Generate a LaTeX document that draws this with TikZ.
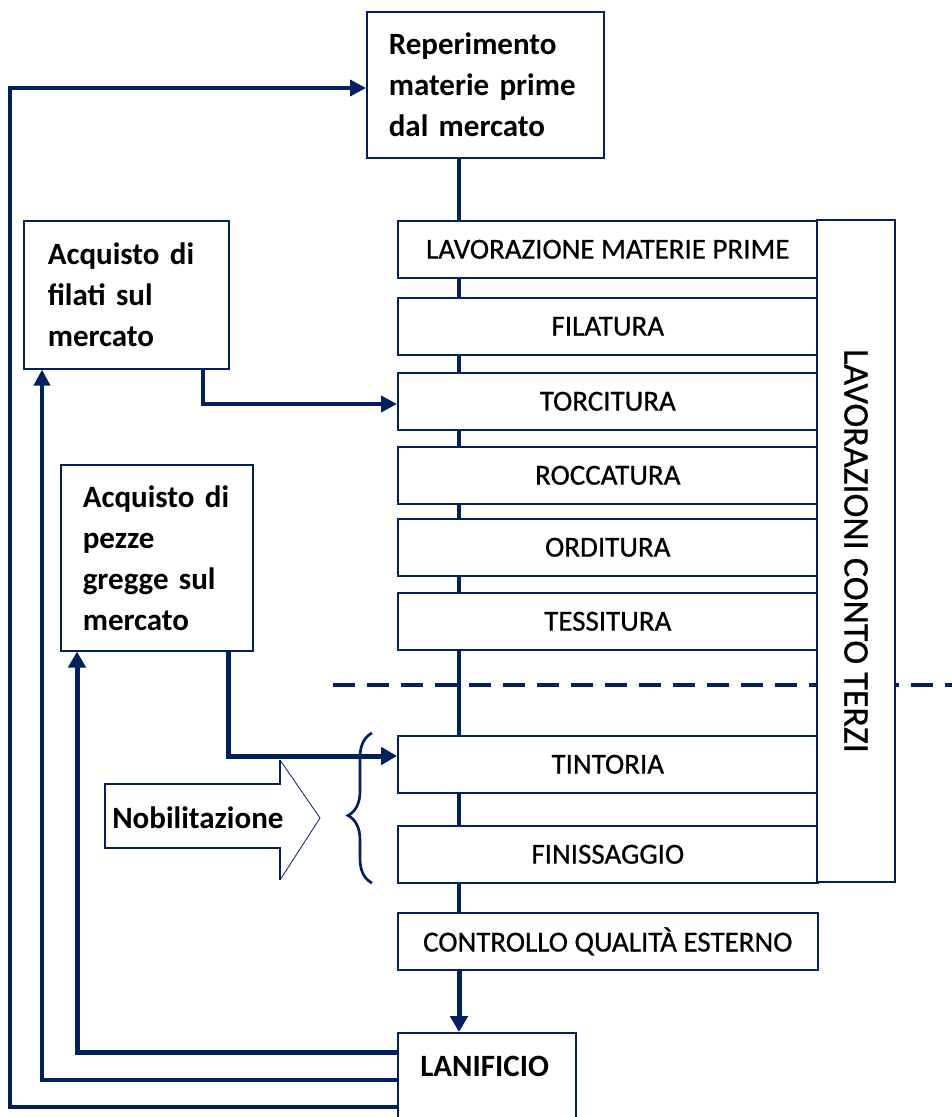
\documentclass[tikz,border=0pt]{standalone}
\usepackage{fontspec}
\setmainfont{Carlito}[WordSpace=0.6]
\newfontfamily\procfont{Carlito}[FakeBold=0.7]
\usetikzlibrary{arrows.meta,decorations.pathreplacing,backgrounds}
\definecolor{navy}{RGB}{0,32,96}
\begin{document}
\begin{tikzpicture}[x=0.75pt,y=-0.75pt,
  box/.style={draw=navy, line width=1.2pt, fill=white, inner sep=0pt},
  proc/.style={box, anchor=north west, minimum width=315pt, minimum height=42.75pt, font=\procfont\fontsize{21.75}{26}\selectfont},
  mkt/.style={box, anchor=north west, align=left, font=\bfseries\fontsize{23.25}{30.75}\selectfont},
  conn/.style={draw=navy, line width=2.8pt},
  arr/.style={conn, -{Triangle[length=12pt,width=12pt]}},
  arrthick/.style={draw=navy, line width=3.75pt, -{Triangle[length=12pt,width=13pt]}},
]
\useasboundingbox (0,0) rectangle (952,1117);
\clip (0,0) rectangle (952,1117);

% market boxes
\node[mkt, minimum width=177.75pt, minimum height=109.5pt, inner xsep=16.5pt, text width=144.75pt] (Rep) at (366,11) {Reperimento\\materie prime\\dal mercato};
\node[mkt, minimum width=153.75pt, minimum height=111pt, inner xsep=18pt, text width=117.75pt] (Fil) at (23,220) {Acquisto di\\filati sul\\mercato};
\node[mkt, minimum width=144pt, minimum height=139.5pt, inner xsep=16.5pt, text width=111pt] (Pez) at (60,464) {Acquisto di\\pezze\\gregge sul\\mercato};

% process boxes
\node[proc] (LMP) at (397,220) {LAVORAZIONE MATERIE PRIME};
\node[proc] (FIL) at (397,297) {FILATURA};
\node[proc] (TOR) at (397,372) {TORCITURA};
\node[proc] (ROC) at (397,446) {ROCCATURA};
\node[proc] (ORD) at (397,518) {ORDITURA};
\node[proc] (TES) at (397,592) {TESSITURA};
\node[proc] (TIN) at (397,735) {TINTORIA};
\node[proc] (FIN) at (397,825) {FINISSAGGIO};
\node[proc] (CQE) at (397,912) {CONTROLLO QUALITÀ ESTERNO};

\node[box, rotate=-90, minimum width=496.5pt, minimum height=58.5pt, font=\procfont\fontsize{27}{30}\selectfont] (LCT) at (856,551) {LAVORAZIONI CONTO TERZI};

\node[box, anchor=north west, minimum width=133.5pt, minimum height=90pt] (LAN) at (397,1032) {};
\node[anchor=west, inner sep=0pt, font=\bfseries\fontsize{23.25}{28}\selectfont] (LANt) at (420,1066) {LANIFICIO};

% coordinates
\coordinate (sp) at (459,0);
\coordinate (fx) at (203,0);
\coordinate (ty) at (0,404);
\coordinate (px) at (228,756);
\coordinate (f1) at (77,1052);
\coordinate (f2) at (42,1080);
\coordinate (f3) at (10,1107);
\coordinate (f4) at (10,88);
\coordinate (dL) at (333,685);
\coordinate (dR) at (960,685);

\begin{scope}[on background layer]
  \draw[navy, line width=3.4pt, dash pattern=on 16.5pt off 9pt] (dL) -- (dR);
  \draw[conn] (Rep.south -| sp) -- (CQE.north -| sp);
\end{scope}

% connectors
\draw[arrthick] (CQE.south -| sp) -- (LAN.north -| sp);
\draw[arr] (Fil.south -| fx) |- (TOR.west |- ty);
\draw[arrthick] (Pez.south -| px) |- (TIN.west |- px);
\draw[arrthick] (LAN.west |- f1) -| (Pez.south -| f1);
\draw[arr] (LAN.west |- f2) -| (Fil.south -| f2);
\draw[arr] (LAN.west |- f3) -- (f3) -- (f4) -- (Rep.west |- f4);

% Nobilitazione block arrow
\draw[navy, line width=1pt] (280,760) -- (280,784) -- (105,784) -- (105,848) -- (280,848) -- (280,880);
\draw[navy, line width=0.6pt] (280,760) -- (320,818) -- (280,880);
\node[anchor=west, inner sep=0pt, font=\bfseries\fontsize{23.25}{28}\selectfont] (Nob) at (112,818) {Nobilitazione};

% brace
\draw[navy, line width=2pt, decorate, decoration={brace, amplitude=18pt, aspect=0.45}] (372,883) -- (372,733);
\end{tikzpicture}
\end{document}
